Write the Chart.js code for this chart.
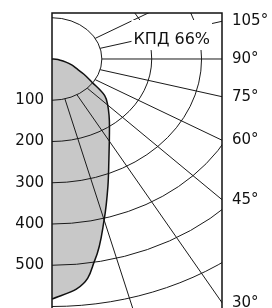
<!DOCTYPE html>
<html><head><meta charset="utf-8">
<script src="https://cdn.jsdelivr.net/npm/chart.js@4/dist/chart.umd.min.js"></script>
<style>html,body{margin:0;padding:0;overflow:hidden;background:#fff}#wrap{width:272px;height:308px;position:relative}</style>
</head><body><div id="wrap"><canvas id="c" width="272" height="308"></canvas></div>
<script>
// Luminous intensity curve (cd) vs angle from nadir (deg)
const angles = [0, 5, 10, 15, 20, 25, 30, 35, 40, 45, 50, 55, 60, 65, 70, 75, 80, 85, 90];
const intensity = [582, 560, 495, 404, 328, 270, 230, 201, 178, 158, 138, 98, 74, 54, 42, 29, 17, 8, 0];
const ringValues = [100, 200, 300, 400, 500, 600];
const intensityTicks = [100, 200, 300, 400, 500];
const spokeAngles = [15, 30, 45, 60, 75, 90, 105, 120];
const angleTicks = [105, 90, 75, 60, 45, 30];
const efficiencyLabel = 'КПД 66%';

const X_MAX = 341, Y_MAX = 111.5, Y_MIN = -603.6;
const rad = d => d * Math.PI / 180;
const FONT = 'DejaVu Sans';

// polar -> cartesian (x to the right, y upward; nadir is down)
const curve = angles.map((a, i) => ({x: intensity[i] * Math.sin(rad(a)), y: -intensity[i] * Math.cos(rad(a))})).reverse();

const polarGrid = {
  id: 'polarGrid',
  beforeDatasetsDraw(chart) {
    const {ctx, chartArea: a, scales: {x, y}} = chart;
    const cx = x.getPixelForValue(0), cy = y.getPixelForValue(0);
    ctx.save();
    ctx.beginPath(); ctx.rect(a.left, a.top, a.right - a.left, a.bottom - a.top); ctx.clip();
    ctx.strokeStyle = '#1a1a1a'; ctx.lineWidth = 1;
    for (const r of ringValues) {
      const rx = x.getPixelForValue(r) - cx, ry = cy - y.getPixelForValue(r);
      ctx.beginPath(); ctx.ellipse(cx, cy, rx, ry, 0, 0, Math.PI * 2); ctx.stroke();
    }
    const inner = ringValues[0], outer = 2000;
    for (const d of spokeAngles) {
      const t = rad(d);
      ctx.beginPath();
      ctx.moveTo(x.getPixelForValue(inner * Math.sin(t)), y.getPixelForValue(-inner * Math.cos(t)));
      ctx.lineTo(x.getPixelForValue(outer * Math.sin(t)), y.getPixelForValue(-outer * Math.cos(t)));
      ctx.stroke();
    }
    ctx.restore();
  },
  afterDatasetsDraw(chart) {
    const {ctx, chartArea: a} = chart;
    ctx.save();
    // label box
    ctx.font = '16px "' + FONT + '"';
    const tx = a.left + 81.5, ty = a.top + 31;
    const w = ctx.measureText(efficiencyLabel).width;
    ctx.fillStyle = '#fff';
    ctx.fillRect(tx - 2, a.top + 7, w + 4, 30);
    ctx.fillStyle = '#111';
    ctx.textBaseline = 'alphabetic';
    ctx.fillText(efficiencyLabel, tx, ty);
    // frame
    ctx.strokeStyle = '#111'; ctx.lineWidth = 1.5;
    ctx.beginPath();
    ctx.moveTo(a.left, a.bottom + 2); ctx.lineTo(a.left, a.top); ctx.lineTo(a.right, a.top); ctx.lineTo(a.right, a.bottom + 2);
    ctx.stroke();
    ctx.restore();
  }
};

const noPad = (s, w) => { s.width = w; s.paddingTop = 0; s.paddingBottom = 0; };

new Chart(document.getElementById('c'), {
  type: 'line',
  data: {
    datasets: [{
      data: curve,
      borderColor: '#111',
      borderWidth: 1.5,
      backgroundColor: '#c8c8c8',
      fill: 'origin',
      pointRadius: 0,
      cubicInterpolationMode: 'monotone'
    }]
  },
  options: {
    indexAxis: 'y',
    responsive: false,
    animation: false,
    devicePixelRatio: 1,
    layout: {padding: {top: 13, left: 0, right: 0, bottom: 0}},
    plugins: {legend: {display: false}, tooltip: {enabled: false}, filler: {drawTime: 'beforeDatasetsDraw'}},
    scales: {
      x: {type: 'linear', min: 0, max: X_MAX, display: false},
      y: {
        type: 'linear', min: Y_MIN, max: Y_MAX, position: 'left',
        afterBuildTicks: s => { s.ticks = intensityTicks.map(v => ({value: -v})); },
        afterFit: s => noPad(s, 52),
        ticks: {callback: v => String(-v), padding: 8, color: '#111', autoSkip: false, font: {family: FONT, size: 15}},
        grid: {display: false, drawTicks: false},
        border: {display: false}
      },
      y2: {
        type: 'linear', min: Y_MIN, max: Y_MAX, position: 'right',
        afterBuildTicks: s => { s.ticks = angleTicks.map(d => ({value: -X_MAX * Math.cos(rad(d)) / Math.sin(rad(d))})); },
        afterFit: s => noPad(s, 50),
        ticks: {callback: (v, i) => angleTicks[i] + '°', padding: 10, color: '#111', autoSkip: false, font: {family: FONT, size: 15}},
        grid: {display: false, drawTicks: false},
        border: {display: false}
      }
    }
  },
  plugins: [polarGrid]
});
</script></body></html>
